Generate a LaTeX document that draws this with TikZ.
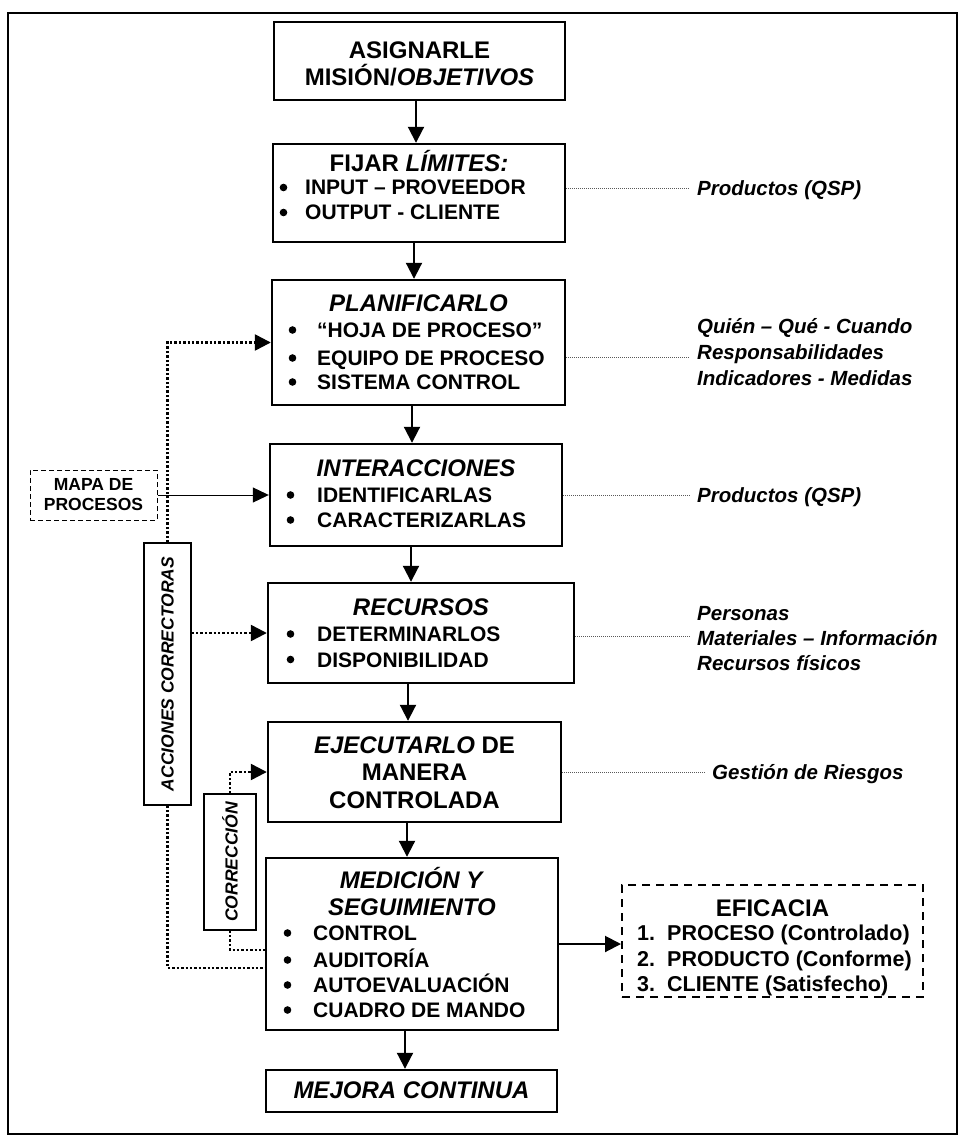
\documentclass[tikz,border=0pt]{standalone}
\usepackage{fontspec}
\setmainfont{Liberation Sans}
\usetikzlibrary{arrows.meta}
\newcommand{\bigbul}{\raisebox{3.7pt}{\tikz\fill (0,0) circle[radius=3.8pt];}}
\newcommand{\bi}[2][31pt]{\makebox[#1][l]{\hspace*{1.5pt}\bigbul}#2}
\newcommand{\nm}[2]{\makebox[30pt][l]{#1}#2}
\begin{document}
\begin{tikzpicture}[x=1pt,y=-1pt,
  box/.style={draw, line width=2.4pt, inner sep=0pt},
  ttl/.style={anchor=base, inner sep=0pt, font=\fontsize{24}{28}\selectfont\bfseries},
  itm/.style={anchor=base west, inner sep=0pt, font=\fontsize{21}{25}\selectfont\bfseries},
  eitm/.style={anchor=base west, inner sep=0pt, font=\fontsize{21.5}{25}\selectfont\bfseries},
  side/.style={anchor=base west, inner sep=0pt, font=\fontsize{20.5}{25}\selectfont\bfseries\itshape},
  small/.style={font=\fontsize{17.5}{20}\selectfont\bfseries},
  arr/.style={line width=2pt, -{Triangle[length=16pt,width=16pt]}},
  thinarr/.style={line width=1pt, -{Triangle[length=16pt,width=15pt]}},
  corr/.style={line width=2.4pt, dash pattern=on 2.4pt off 2pt, -{Triangle[length=16pt,width=16pt]}},
  corrl/.style={line width=2.4pt, dash pattern=on 2.4pt off 2pt},
  lead/.style={line width=0.9pt, black!65, dash pattern=on 0.9pt off 1.1pt}
]
\useasboundingbox (0,0) rectangle (960,1139);
\draw[line width=1.6pt] (8,13) rectangle (957,1134);

% main boxes
\node[box, minimum width=291pt, minimum height=78pt]  (b1) at (419.5,61) {};
\node[box, minimum width=292pt, minimum height=98pt]  (b2) at (419,193) {};
\node[box, minimum width=293pt, minimum height=125pt] (b3) at (418.5,342.5) {};
\node[box, minimum width=292pt, minimum height=102pt] (b4) at (416,495) {};
\node[box, minimum width=306pt, minimum height=100pt] (b5) at (421,633) {};
\node[box, minimum width=293pt, minimum height=100pt] (b6) at (414.5,772) {};
\node[box, minimum width=292pt, minimum height=172pt] (b7) at (412,944) {};
\node[box, minimum width=291pt, minimum height=42pt]  (b8) at (411.5,1091) {};

% side boxes
\node[draw, line width=2pt, dash pattern=on 8pt off 6pt, minimum width=301pt, minimum height=112pt, inner sep=0pt] (eff) at (772.5,941) {};
\node[draw, line width=1pt, dash pattern=on 5pt off 3pt, minimum width=127pt, minimum height=50pt, inner sep=0pt, small, align=center] (mapa) at (93.5,495) {MAPA DE\\PROCESOS};
\node[draw, line width=1.2pt, minimum width=47pt, minimum height=262pt, inner sep=0pt] (acc) at (167.5,674) {};
\node[draw, line width=1.2pt, minimum width=52pt, minimum height=136pt, inner sep=0pt] (cor) at (230,862) {};
\node[small, rotate=90, inner sep=0pt] (acct) at (acc.center) {\itshape ACCIONES CORRECTORAS};
\node[small, rotate=90, inner sep=0pt] (cort) at (cor.center) {\itshape CORRECCIÓN};

% texts in boxes
\node[ttl] (t1a) at (419.5,59) {ASIGNARLE};
\node[ttl] (t1b) at (419.5,86) {MISIÓN/\textit{OBJETIVOS}};

\node[ttl] (t2a) at (419,172) {FIJAR \textit{LÍMITES:}};
\node[itm] (t2b) at (278,195) {\bi[27pt]{INPUT – PROVEEDOR}};
\node[itm] (t2c) at (278,220) {\bi[27pt]{OUTPUT - CLIENTE}};

\node[ttl] (t3a) at (418.5,311) {\textit{PLANIFICARLO}};
\node[itm] (t3b) at (287,337.5) {\bi[30pt]{“HOJA DE PROCESO”}};
\node[itm] (t3c) at (287,365.5) {\bi[30pt]{EQUIPO DE PROCESO}};
\node[itm] (t3d) at (287,389.5) {\bi[30pt]{SISTEMA CONTROL}};

\node[ttl] (t4a) at (416,476) {\textit{INTERACCIONES}};
\node[itm] (t4b) at (285,502.5) {\bi[32pt]{IDENTIFICARLAS}};
\node[itm] (t4c) at (285,527.5) {\bi[32pt]{CARACTERIZARLAS}};

\node[ttl] (t5a) at (421,615) {\textit{RECURSOS}};
\node[itm] (t5b) at (285,641.5) {\bi[32pt]{DETERMINARLOS}};
\node[itm] (t5c) at (285,667) {\bi[32pt]{DISPONIBILIDAD}};

\node[ttl] (t6a) at (414.5,753.5) {\textit{EJECUTARLO} DE};
\node[ttl] (t6b) at (414.5,780.5) {MANERA};
\node[ttl] (t6c) at (414.5,808.5) {CONTROLADA};

\node[ttl] (t7a) at (412,888.5) {\textit{MEDICIÓN Y}};
\node[ttl] (t7b) at (412,915) {\textit{SEGUIMIENTO}};
\node[itm] (t7c) at (282,940.5) {\bi{CONTROL}};
\node[itm] (t7d) at (282,967.5) {\bi{AUDITORÍA}};
\node[itm] (t7e) at (282,992.5) {\bi{AUTOEVALUACIÓN}};
\node[itm] (t7f) at (282,1017.5) {\bi{CUADRO DE MANDO}};

\node[ttl] (t8a) at (411.5,1098.5) {\textit{MEJORA CONTINUA}};

\node[ttl] (tea) at (772.5,916.5) {EFICACIA};
\node[eitm] (teb) at (637,940.5) {\nm{1.}{PROCESO (Controlado)}};
\node[eitm] (tec) at (637,966.5) {\nm{2.}{PRODUCTO (Conforme)}};
\node[eitm] (ted) at (637,991.5) {\nm{3.}{CLIENTE (Satisfecho)}};

% right-hand notes
\node[side] (pq1) at (697,195.5) {Productos (QSP)};
\node[side] (q1) at (697,333) {Quién – Qué - Cuando};
\node[side] (q2) at (697,359) {Responsabilidades};
\node[side] (q3) at (697,385) {Indicadores - Medidas};
\node[side] (pq2) at (697,502.5) {Productos (QSP)};
\node[side] (r1) at (697,620.5) {Personas};
\node[side] (r2) at (697,645.5) {Materiales – Información};
\node[side] (r3) at (697,670.5) {Recursos físicos};
\node[side] (g1) at (712,779.5) {Gestión de Riesgos};

\coordinate (l2) at (690,188);
\coordinate (l3) at (690,357);
\coordinate (l4) at (690,495);
\coordinate (l5) at (690,636);
\coordinate (l6) at (705,772);
\draw[lead] (b2.east |- l2) -- (l2);
\draw[lead] (b3.east |- l3) -- (l3);
\draw[lead] (b4.east |- l4) -- (l4);
\draw[lead] (b5.east |- l5) -- (l5);
\draw[lead] (b6.east |- l6) -- (l6);

% main flow arrows
\draw[arr] (b1.south -| 416,0) -- (b2.north -| 416,0);
\draw[arr] (b2.south -| 414,0) -- (b3.north -| 414,0);
\draw[arr] (b3.south -| 412,0) -- (b4.north -| 412,0);
\draw[arr] (b4.south -| 411,0) -- (b5.north -| 411,0);
\draw[arr] (b5.south -| 408,0) -- (b6.north -| 408,0);
\draw[arr] (b6.south -| 407,0) -- (b7.north -| 407,0);
\draw[arr] (b7.south -| 405,0) -- (b8.north -| 405,0);
\draw[arr] (b7.east) -- (b7.east -| eff.west);

% feedback
\draw[thinarr] (mapa.east) -- (b4.west);
\draw[corr] (acc.north) |- (b3.west);
\draw[corr] (acc.east |- b5.west) -- (b5.west);
\draw[corrl] (acc.south) |- (b7.west |- 0,968);
\draw[corr] (cor.north) |- (b6.west);
\draw[corrl] (cor.south) |- (b7.west |- 0,950);
\end{tikzpicture}
\end{document}
